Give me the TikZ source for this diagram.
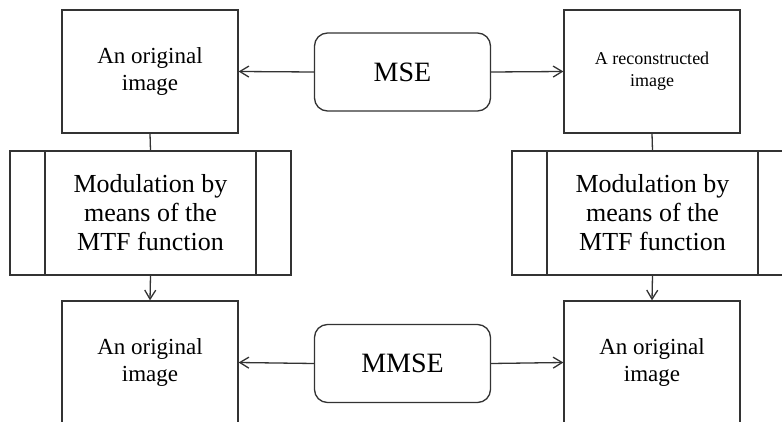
\documentclass[tikz,border=0pt]{standalone}
\usepackage{fontspec}
\setmainfont{Liberation Serif}
\usetikzlibrary{arrows.meta}

\tikzset{
  line/.style={draw=black!80, line width=1.3pt},
  imgbox/.style={line, rectangle, minimum width=176pt, minimum height=123pt,
    align=center, inner sep=0pt, font=\fontsize{23}{27}\selectfont},
  errbox/.style={line, rectangle, rounded corners=13pt, minimum width=176pt,
    minimum height=78pt, inner sep=0pt, font=\fontsize{28}{30}\selectfont},
  mtfbox/.style={line, rectangle, minimum width=281pt, minimum height=124pt,
    align=center, inner sep=0pt, font=\fontsize{26}{29}\selectfont,
    path picture={
      \draw[line] ([xshift=35pt]path picture bounding box.north west) -- ([xshift=35pt]path picture bounding box.south west);
      \draw[line] ([xshift=-35pt]path picture bounding box.north east) -- ([xshift=-35pt]path picture bounding box.south east);
    }},
  arr/.style={line, -{Straight Barb[length=9pt,width=11pt,line width=1.3pt]}},
}

\begin{document}
\begin{tikzpicture}[x=1pt, y=-1pt]
  \useasboundingbox (0,0) rectangle (782,422);
  \clip (0,0) rectangle (782,422);

  % top row
  \node[imgbox] (orig1) at (150,71.5) {An original\\image};
  \node[imgbox, font=\fontsize{18}{22}\selectfont] (recon) at (652,71.5) {A reconstructed\\image};
  \node[errbox] (mse) at (402.5,72) {MSE};

  % modulation blocks
  \node[mtfbox] (mtfL) at (150.5,213) {Modulation by\\means of the\\MTF function};
  \node[mtfbox] (mtfR) at (652.5,213) {Modulation by\\means of the\\MTF function};

  % bottom row
  \node[imgbox] (orig2) at (150,362.5) {An original\\image};
  \node[imgbox] (orig3) at (652,362.5) {An original\\image};
  \node[errbox] (mmse) at (402.5,363.5) {MMSE};

  % connectors
  \draw[arr] (mse.west) -- (orig1.east);
  \draw[arr] (mse.east) -- (recon.west);
  \draw[arr] (mmse.west) -- (orig2.east);
  \draw[arr] (mmse.east) -- (orig3.west);

  \draw[line] (orig1.south) -- (mtfL.north);
  \draw[line] (recon.south) -- (mtfR.north);
  \draw[arr] (mtfL.south) -- (orig2.north);
  \draw[arr] (mtfR.south) -- (orig3.north);
\end{tikzpicture}
\end{document}
